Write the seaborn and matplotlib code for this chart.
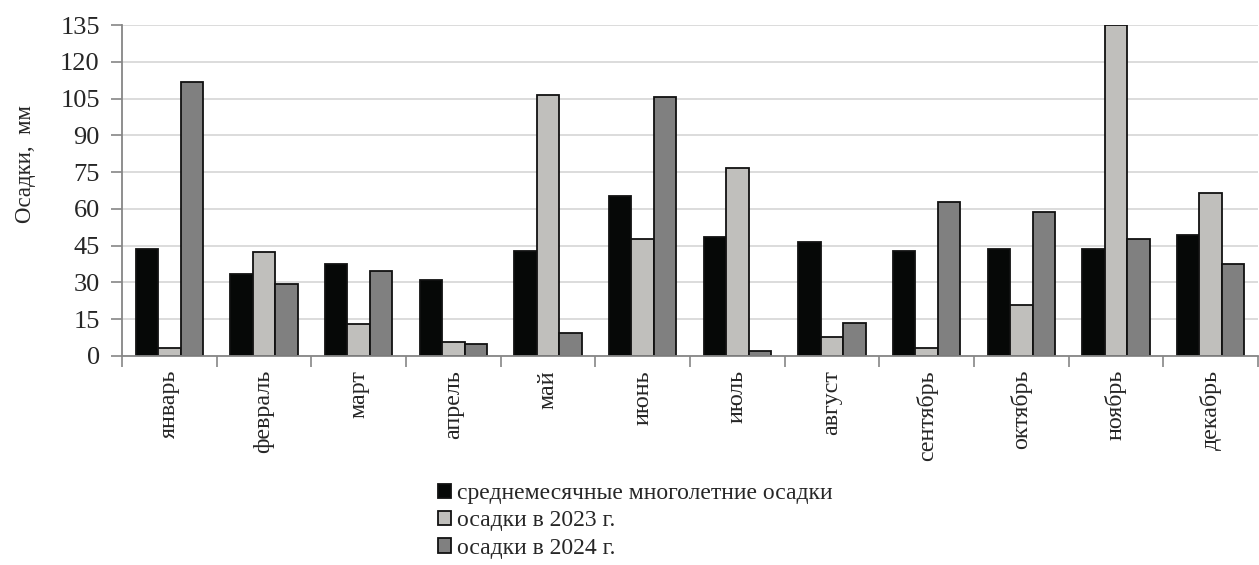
import numpy as np
import pandas as pd
import matplotlib
matplotlib.use("Agg")
import matplotlib.pyplot as plt
from matplotlib.ticker import MultipleLocator, FixedLocator
import seaborn as sns

months = ["январь", "февраль", "март", "апрель", "май", "июнь",
          "июль", "август", "сентябрь", "октябрь", "ноябрь", "декабрь"]
series_names = ["среднемесячные многолетние осадки",
                "осадки в 2023 г.",
                "осадки в 2024 г."]
norm_mm = [43.5, 33.3, 37.5, 31.0, 42.8, 65.3, 48.7, 46.4, 42.8, 43.5, 43.5, 49.3]
y2023_mm = [3.4, 42.6, 12.9, 5.6, 106.4, 47.7, 76.8, 7.6, 3.3, 20.9, 135.0, 66.6]
y2024_mm = [111.6, 29.5, 34.7, 4.9, 9.2, 105.8, 1.9, 13.6, 62.9, 58.6, 47.7, 37.5]
colors = ["#060807", "#c0bfbc", "#808080"]

df = pd.DataFrame({
    "месяц": months * 3,
    "осадки": norm_mm + y2023_mm + y2024_mm,
    "ряд": [s for s in series_names for _ in months],
})

sns.set_style("white")
plt.rcParams["font.family"] = ["Liberation Serif", "DejaVu Serif"]

fig = plt.figure(figsize=(12.59, 5.65), dpi=100)
ax = fig.add_axes([122 / 1259, 1 - 356 / 565, 1136 / 1259, 331 / 565])

sns.barplot(data=df, x="месяц", y="осадки", hue="ряд", order=months,
            hue_order=series_names, palette=colors, width=0.71,
            edgecolor="#111111", linewidth=1.3, saturation=1,
            ax=ax, legend=True)

ax.set_ylim(0, 135)
ax.set_xlim(-0.5, 11.5)
ax.yaxis.set_major_locator(MultipleLocator(15))
ax.grid(axis="y", color="#d9d9d9", linewidth=1.3)
ax.set_axisbelow(True)

for side in ["top", "right"]:
    ax.spines[side].set_visible(False)
for side in ["left", "bottom"]:
    ax.spines[side].set_color("#868686")
    ax.spines[side].set_linewidth(1.3)

ax.tick_params(axis="y", length=8, width=1.2, color="#868686",
               labelsize=19, pad=8, left=True)
ax.tick_params(axis="x", which="major", length=0, labelsize=17.3,
               labelrotation=90, pad=10)
ax.xaxis.set_minor_locator(FixedLocator(np.arange(-0.5, 12, 1.0)))
ax.tick_params(axis="x", which="minor", length=8, width=1.2,
               color="#868686", bottom=True)
for lbl in ax.get_xticklabels():
    lbl.set_verticalalignment("top")

ax.set_xlabel("")
ax.set_ylabel("Осадки,  мм", fontsize=16.5)
ax.yaxis.set_label_coords(-0.076, 0.58)

handles, labels = ax.get_legend_handles_labels()
ax.get_legend().remove()
fig.legend(handles, labels, loc="upper left",
           bbox_to_anchor=(438 / 1259, 1 - 483 / 565),
           frameon=False, fontsize=17, ncol=1,
           handlelength=0.55, handleheight=0.55, handletextpad=0.25,
           labelspacing=0.27, borderaxespad=0, borderpad=0)

fig.savefig("out.png", dpi=100)
